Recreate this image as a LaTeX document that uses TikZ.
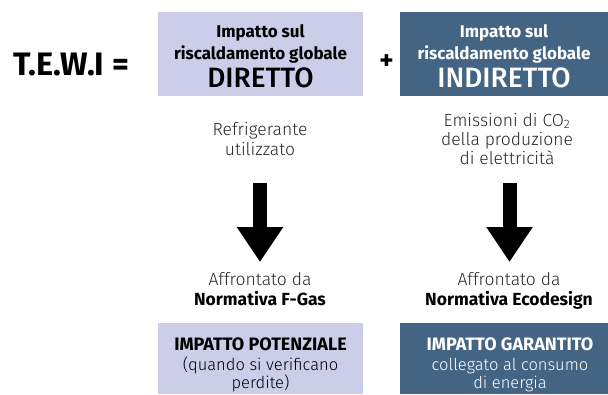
\documentclass[tikz,border=0pt]{standalone}
\usepackage{fontspec}
\setmainfont{Fira Sans}
\newfontfamily\firamed{Fira Sans Medium}
\newfontfamily\firalight{Fira Sans Light}
\usetikzlibrary{arrows.meta}
\definecolor{lav}{RGB}{203,205,233}
\definecolor{slate}{RGB}{68,100,132}
\definecolor{txtgray}{RGB}{40,40,40}
\tikzset{
  box/.style={inner sep=0pt, outer sep=0pt, anchor=north west},
  ttl/.style={anchor=base, inner sep=0pt, font=\bfseries\fontsize{17}{20}\selectfont},
  big/.style={anchor=base, inner sep=0pt, font=\firamed\fontsize{28}{32}\selectfont},
  reg/.style={anchor=base, inner sep=0pt, text=txtgray, font=\firalight\fontsize{17.5}{20}\selectfont},
  regs/.style={anchor=base, inner sep=0pt, font=\firalight\fontsize{16.5}{19}\selectfont},
  regb/.style={anchor=base, inner sep=0pt, font=\bfseries\fontsize{17.5}{20}\selectfont},
  regbb/.style={anchor=base, inner sep=0pt, font=\bfseries\fontsize{18}{20}\selectfont},
  fat/.style={line width=14pt, -{Triangle[width=44pt,length=35pt]}}
}
\begin{document}
\begin{tikzpicture}[x=1pt,y=-1pt]
\useasboundingbox (0,0) rectangle (608,394);
% boxes
\node[box, fill=lav, minimum width=205pt, minimum height=84pt] (dbox) at (158,12) {};
\node[box, fill=slate, minimum width=208pt, minimum height=84pt] (ibox) at (400,12) {};
\node[box, fill=lav, minimum width=205pt, minimum height=71pt] (pbox) at (158,323) {};
\node[box, fill=slate, minimum width=208pt, minimum height=71pt] (gbox) at (400,323) {};
% left title
\node[anchor=base west, inner sep=0pt, font=\bfseries\fontsize{32.5}{36}\selectfont] (tewi) at (13,75) {T.E.W.I =};
\node[anchor=center, inner sep=0pt, font=\bfseries\fontsize{27}{30}\selectfont] (plus) at (386.5,62) {+};
% direct box text
\node[ttl] (d1) at (260.5,37) {Impatto sul};
\node[ttl] (d2) at (260.5,59) {riscaldamento globale};
\node[big] (d3) at (260.5,87) {DIRETTO};
% indirect box text
\node[ttl, text=white] (i1) at (504,37) {Impatto sul};
\node[ttl, text=white] (i2) at (504,59) {riscaldamento globale};
\node[big, text=white] (i3) at (504,87) {INDIRETTO};
% descriptions
\node[reg] (r1) at (260,135) {Refrigerante};
\node[reg] (r2) at (260,155) {utilizzato};
\node[reg] (e1) at (507,126) {Emissioni di CO\textsubscript{2}};
\node[reg] (e2) at (507,145) {della produzione};
\node[reg] (e3) at (507,164) {di elettricità};
% arrows
\coordinate (la1) at (260,183);
\coordinate (la2) at (260,262);
\coordinate (ra1) at (509.5,183);
\coordinate (ra2) at (509.5,262);
\draw[fat] (la1) -- (la2);
\draw[fat] (ra1) -- (ra2);
% addressed by
\node[reg] (a1) at (260,285) {Affrontato da};
\node[regb] (a2) at (260,305) {Normativa F-Gas};
\node[reg] (b1) at (509,285) {Affrontato da};
\node[regb] (b2) at (509,305) {Normativa Ecodesign};
% bottom boxes text
\node[regbb] (p1) at (260.5,350) {IMPATTO POTENZIALE};
\node[regs, text=black] (p2) at (260.5,370) {(quando si verificano};
\node[regs, text=black] (p3) at (260.5,388) {perdite)};
\node[regbb, text=white] (g1) at (510,350) {IMPATTO GARANTITO};
\node[regs, text=white] (g2) at (510,370) {collegato al consumo};
\node[regs, text=white] (g3) at (510,388) {di energia};
\end{tikzpicture}
\end{document}
